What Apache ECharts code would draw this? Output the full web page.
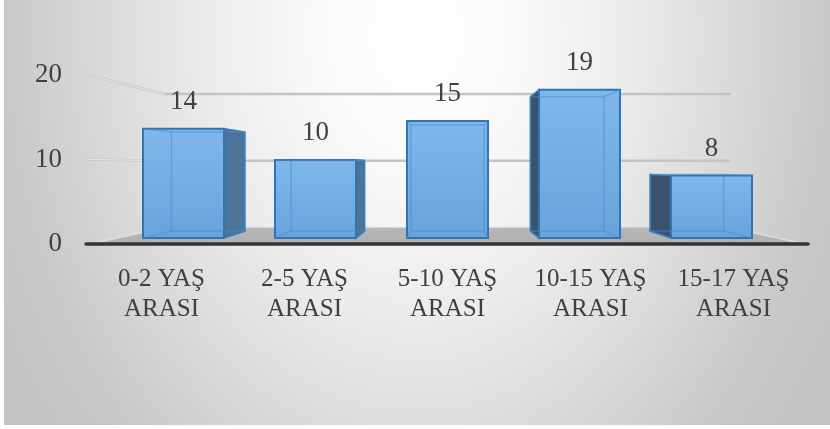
<!DOCTYPE html>
<html>
<head>
<meta charset="utf-8">
<script src="https://cdn.jsdelivr.net/npm/echarts@6/dist/echarts.min.js"></script>
<style>
  html, body { margin: 0; padding: 0; background: #fff; }
  #bg {
    position: absolute; left: 4px; top: 0; width: 826px; height: 425px;
    background: radial-gradient(ellipse 480px 640px at 413px 34px,
      #ffffff 0%, #fafafa 20%, #ebebeb 45%, #dddddd 62%, #c9c9c9 85%, #c3c3c3 100%);
  }
  #main { position: absolute; left: 0; top: 0; width: 830px; height: 429px; }
</style>
</head>
<body>
<div id="bg"></div>
<div id="main"></div>
<script>
// 数据
const categories = ['0-2 YAŞ\nARASI', '2-5 YAŞ\nARASI', '5-10 YAŞ\nARASI', '10-15 YAŞ\nARASI', '15-17 YAŞ\nARASI']
const counts = [14, 10, 15, 19, 8]
const gridValues = [10, 20]

// 3D 透视效果参数
const EYE_VALUE = 9.35
const WALL_DEPTH = 0.79
const BAR_FRONT = 0.923
const BAR_BACK = 0.837

const toward = (p, vp, s) => [vp[0] + (p[0] - vp[0]) * s, vp[1] + (p[1] - vp[1]) * s]

const eyePoint = (params, api) => {
  const cs = params.coordSys
  return [cs.x + cs.width / 2, api.coord([0, EYE_VALUE])[1]]
}

// 地面 + 网格线
const renderRoom = (params, api) => {
  const cs = params.coordSys
  const vp = eyePoint(params, api)
  const y0 = api.coord([0, 0])[1]
  const fl = [cs.x, y0], fr = [cs.x + cs.width, y0]
  const bl = toward(fl, vp, WALL_DEPTH), br = toward(fr, vp, WALL_DEPTH)
  const children = [
    {
      type: 'polygon',
      shape: { points: [fl, fr, br, bl] },
      style: { fill: new echarts.graphic.LinearGradient(0, 0, 0, 1, [
        { offset: 0, color: '#b7b7b7' }, { offset: 1, color: '#b0b0b0' }
      ]) }
    },
    { type: 'line', shape: { x1: fl[0], y1: fl[1], x2: bl[0], y2: bl[1] }, style: { stroke: '#dedede', lineWidth: 1.5 } },
    { type: 'line', shape: { x1: fr[0], y1: fr[1], x2: br[0], y2: br[1] }, style: { stroke: '#dedede', lineWidth: 1.5 } }
  ]
  gridValues.forEach(v => {
    const y = api.coord([0, v])[1]
    const f = [cs.x - 4, y]
    const b = toward([cs.x, y], vp, WALL_DEPTH)
    const e = [br[0], b[1]]
    children.push({ type: 'polyline', shape: { points: [f, b, e] }, style: { stroke: '#c4c4c4', lineWidth: 2.5, fill: 'none', lineCap: 'round' } })
    children.push({ type: 'polyline', shape: { points: [f, b] }, style: { stroke: '#f2f2f2', lineWidth: 0.8, fill: 'none' } })
  })
  children.push({
    type: 'line',
    shape: { x1: cs.x - 4, y1: y0, x2: cs.x + cs.width + 3, y2: y0 },
    style: { stroke: '#333333', lineWidth: 3.5, lineCap: 'round' }
  })
  return { type: 'group', children }
}

// 立体柱子
const renderBar = (params, api) => {
  const i = api.value(0), v = api.value(1)
  const vp = eyePoint(params, api)
  const top = api.coord([i, v]), base = api.coord([i, 0])
  const half = api.size([1, 0])[0] * 0.307
  const corners = [[top[0] - half, top[1]], [top[0] + half, top[1]], [top[0] + half, base[1]], [top[0] - half, base[1]]]
  const front = corners.map(p => toward(p, vp, BAR_FRONT))
  const back = corners.map(p => toward(p, vp, BAR_BACK))
  const children = []

  if (top[0] < vp[0] - 1) {
    children.push({ type: 'polygon', shape: { points: [front[1], back[1], back[2], front[2]] },
      style: { fill: '#4d7398', stroke: '#2e75b6', lineWidth: 1.5 } })
  } else if (top[0] > vp[0] + 1) {
    children.push({ type: 'polygon', shape: { points: [front[0], back[0], back[3], front[3]] },
      style: { fill: '#3a526b', stroke: '#2e75b6', lineWidth: 1.5 } })
  }

  children.push({
    type: 'polygon',
    shape: { points: front },
    style: {
      fill: new echarts.graphic.LinearGradient(0, 0, 0, 1, [
        { offset: 0, color: '#80b8ec' }, { offset: 1, color: '#69a3d9' }
      ]),
      stroke: '#2e75b6',
      lineWidth: 2
    }
  })

  // 透明感：背面的棱
  const edge = { stroke: 'rgba(70,140,210,0.5)', lineWidth: 1.5, fill: 'none' }
  children.push({ type: 'polygon', shape: { points: back }, style: edge })
  for (let k = 0; k < 4; k++) {
    children.push({ type: 'line', shape: { x1: front[k][0], y1: front[k][1], x2: back[k][0], y2: back[k][1] }, style: edge })
  }

  children.push({
    type: 'text',
    style: {
      text: String(v),
      x: (front[0][0] + front[1][0]) / 2,
      y: front[0][1] - 27,
      align: 'center',
      verticalAlign: 'middle',
      font: '27px "Liberation Serif"',
      fill: '#404040'
    }
  })
  return { type: 'group', children }
}

let chart = echarts.init(document.getElementById('main'), null, { renderer: 'canvas' })

let option = {
  animation: false,
  backgroundColor: 'transparent',
  grid: { left: 90, right: 25, top: 75, bottom: 185 },
  xAxis: {
    type: 'category',
    data: categories,
    axisLine: { show: false },
    axisTick: { show: false },
    axisLabel: {
      interval: 0,
      margin: 20,
      fontFamily: 'Liberation Serif',
      fontSize: 25,
      lineHeight: 30,
      color: '#404040'
    }
  },
  yAxis: {
    type: 'value',
    min: 0,
    max: 20,
    interval: 10,
    axisLine: { show: false },
    axisTick: { show: false },
    splitLine: { show: false },
    axisLabel: {
      margin: 28,
      fontFamily: 'Liberation Serif',
      fontSize: 27,
      color: '#404040'
    }
  },
  series: [
    {
      type: 'custom',
      z: 1,
      renderItem: renderRoom,
      data: [[0, 0]]
    },
    {
      type: 'custom',
      z: 3,
      renderItem: renderBar,
      data: counts.map((v, i) => [i, v])
    }
  ]
}

chart.setOption(option)
</script>
</body>
</html>
